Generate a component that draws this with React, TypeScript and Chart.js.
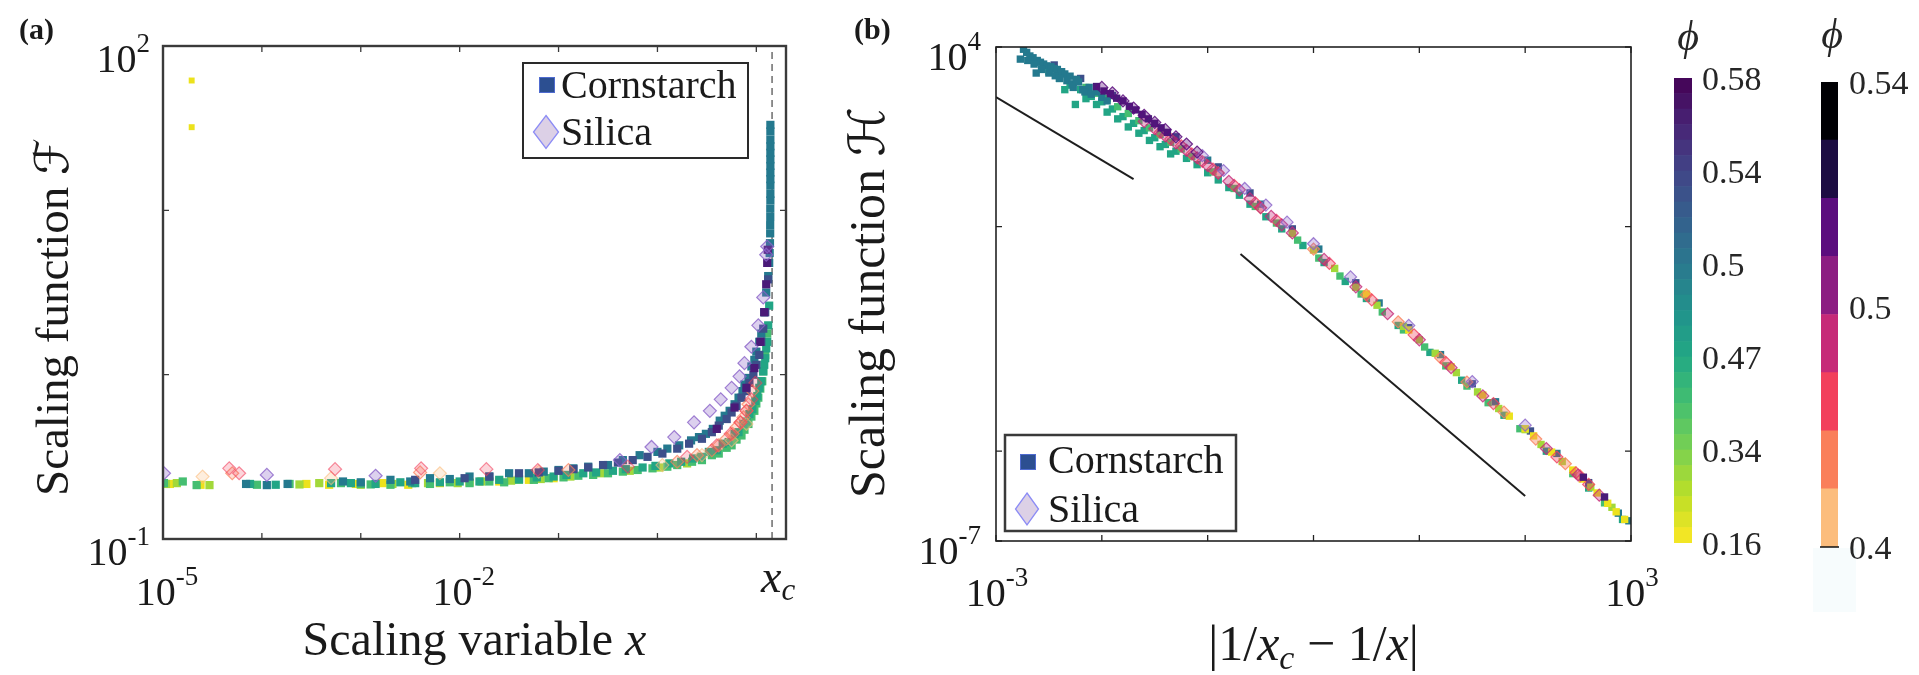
import React, { useEffect, useRef } from 'react';
import { Chart, registerables } from 'chart.js';

Chart.register(...registerables);

const SERIF = '"Liberation Serif", "DejaVu Serif", serif';
const SCRIPT = '"DejaVu Serif", "DejaVu Sans", "Liberation Serif", serif';
const INK = '#1a1a1a';

// ================= Panel (a): F vs x (all values are log10) =================
const aXRange = [-5, 1.3];
const aYRange = [-1, 2];
const aXcLog = 1.159;
const aXTickMarks = [-5, -4, -3, -2, -1, 0, 1];
const aYTickMarks = [-1, 0, 1, 2];
const aXTickLabels = [-5, -2];
const aYTickLabels = [-1, 2];

const aCorn016X = [-4.93, -4.62, -3.55, -3.32, -3.05, -2.78, -2.52, -2.2, -1.9, -1.6, -1.3, -1.05];
const aCorn016Y = [-0.665, -0.67, -0.665, -0.67, -0.665, -0.66, -0.67, -0.66, -0.655, -0.65, -0.64, -0.63];
const aYellowOutX = [-4.71, -4.71];
const aYellowOutY = [1.79, 1.506];
const aCorn034X = [-4.97, -4.86, -4.53, -3.62, -3.42, -3.0, -2.68, -2.32, -2.02, -1.78, -1.48, -1.18, -0.88, -0.58, -0.28, 0.02, 0.3];
const aCorn034Y = [-0.665, -0.66, -0.672, -0.668, -0.66, -0.67, -0.665, -0.66, -0.66, -0.65, -0.645, -0.635, -0.62, -0.6, -0.585, -0.565, -0.54];
const aCorn044X = [-4.99, -4.8, -4.66, -4.05, -3.72, -3.2, -2.9, -2.48, -2.1, -1.7, -1.4, -1.1, -0.8, -0.5, -0.2, 0.1, 0.35, 0.55, 0.7, 0.8, 0.88, 0.95, 1.0, 1.04, 1.07, 1.09, 1.11,
  -3.0, -2.7, -2.3, -1.9, -1.55, -1.25, -0.95, -0.65, -0.35, -0.05, 0.2, 0.45, 0.62, 0.75, 0.85, 0.92, 0.98, 1.02, 1.06];
const aCorn044Y = [-0.66, -0.65, -0.672, -0.67, -0.665, -0.66, -0.668, -0.66, -0.655, -0.65, -0.64, -0.63, -0.615, -0.6, -0.58, -0.56, -0.53, -0.49, -0.445, -0.395, -0.335, -0.255, -0.175, -0.085, 0.02, 0.12, 0.25,
  -0.665, -0.67, -0.665, -0.66, -0.655, -0.64, -0.625, -0.61, -0.59, -0.57, -0.55, -0.52, -0.48, -0.43, -0.37, -0.3, -0.22, -0.14, -0.04];
const aCorn047X = [-4.12, -3.86, -3.3, -2.6, -2.0, -1.6, -1.22, -0.92, -0.62, -0.32, -0.02, 0.24, 0.44, 0.6, 0.72, 0.82, 0.9, 0.96, 1.01, 1.05, 1.08, 1.1, 1.12, 1.13,
  -3.1, -2.85, -2.45, -2.2, -1.8, -1.4, -1.05, -0.75, -0.45, -0.15, 0.12, 0.36, 0.52, 0.66, 0.78, 0.87, 0.93, 0.99, 1.03, 1.07, 1.09, 1.11];
const aCorn047Y = [-0.665, -0.67, -0.66, -0.655, -0.65, -0.64, -0.625, -0.61, -0.595, -0.575, -0.555, -0.53, -0.5, -0.46, -0.41, -0.35, -0.285, -0.21, -0.13, -0.04, 0.06, 0.16, 0.3, 0.42,
  -0.66, -0.665, -0.66, -0.655, -0.65, -0.635, -0.62, -0.6, -0.585, -0.565, -0.54, -0.51, -0.47, -0.42, -0.36, -0.3, -0.24, -0.16, -0.08, 0.02, 0.1, 0.2];
const aCorn050X = [-4.16, -3.95, -3.74, -3.18, -2.7, -2.3, -1.9, -1.5, -1.15, -0.85, -0.5, -0.18, 0.1, 0.34, 0.49, 0.63, 0.73, 0.82, 0.88, 0.95, 1.0, 1.05, 1.08, 1.1, 1.12, 1.13, 1.135, 1.138, 1.14, 1.14, 1.141, 1.141, 1.142, 1.142, 1.142, 1.142, 1.142, 1.142, 1.142, 1.142, 1.142, 1.142, 1.142, 1.142,
  -3.0, -2.5, -2.1, -1.7, -1.3, -1.0, -0.7, -0.35, 0.0, 0.22, 0.42, 0.56, 0.68, 0.78, 0.86, 0.92, 0.98, 1.03];
const aCorn050Y = [-0.665, -0.672, -0.665, -0.65, -0.64, -0.63, -0.62, -0.6, -0.59, -0.57, -0.55, -0.49, -0.45, -0.4, -0.36, -0.28, -0.22, -0.14, -0.06, 0.05, 0.14, 0.25, 0.38, 0.5, 0.6, 0.68, 0.74, 0.8, 0.86, 0.91, 0.96, 1.01, 1.06, 1.1, 1.15, 1.19, 1.23, 1.27, 1.31, 1.35, 1.39, 1.43, 1.48, 1.52,
  -0.655, -0.65, -0.635, -0.62, -0.6, -0.58, -0.56, -0.52, -0.47, -0.43, -0.38, -0.33, -0.25, -0.18, -0.1, -0.02, 0.09, 0.2];
const aCorn054X = [-2.45, -1.95, -1.4, -1.0, -0.7, -0.4, -0.1, 0.2, 0.45, 0.62, 0.75, 0.85, 0.93, 1.0, 1.05, 1.09, 1.12,
  -1.7, -1.2, -0.85, -0.55, -0.25, 0.05, 0.32, 0.55, 0.7, 0.8, 0.9, 0.97, 1.03, 1.07];
const aCorn054Y = [-0.64, -0.63, -0.6, -0.585, -0.565, -0.535, -0.5, -0.45, -0.39, -0.31, -0.23, -0.14, -0.05, 0.06, 0.2, 0.38, 0.58,
  -0.62, -0.595, -0.575, -0.55, -0.52, -0.48, -0.42, -0.35, -0.27, -0.19, -0.1, 0.0, 0.12, 0.28];
const aCorn058X = [0.6, 0.78, 0.9, 0.98, 1.04, 1.08, 1.1, 1.11, 1.115];
const aCorn058Y = [-0.33, -0.2, -0.08, 0.04, 0.2, 0.38, 0.55, 0.68, 0.76];
const aSil040X = [-4.6, -3.3, -2.2, -1.2, 0.05, 0.45, 0.75, 0.9];
const aSil040Y = [-0.62, -0.63, -0.6, -0.59, -0.55, -0.49, -0.4, -0.3];
const aSil042X = [-4.3, -2.4, -0.9, 0.2, 0.55, 0.7, 0.8, 0.87, 0.92, 0.96, 0.4, 0.62, 0.76, 0.84, 0.9];
const aSil042Y = [-0.6, -0.595, -0.58, -0.53, -0.46, -0.39, -0.32, -0.26, -0.18, -0.1, -0.49, -0.43, -0.36, -0.29, -0.22];
const aSil044X = [-4.33, -4.23, -3.26, -2.39, -1.73, -1.21, -0.3, 0.3, 0.6, 0.74, 0.84, 0.9, 0.95, 0.99];
const aSil044Y = [-0.57, -0.6, -0.575, -0.57, -0.575, -0.58, -0.56, -0.5, -0.43, -0.36, -0.29, -0.22, -0.15, -0.05];
const aSil050X = [-4.99, -3.95, -2.85, -0.38, -0.06, 0.17, 0.37, 0.53, 0.64, 0.75, 0.83, 0.88, 0.95, 1.02, 1.07, 1.1, 1.11];
const aSil050Y = [-0.6, -0.61, -0.615, -0.52, -0.44, -0.38, -0.29, -0.22, -0.15, -0.08, -0.01, 0.07, 0.17, 0.3, 0.47, 0.73, 0.78];

// ================= Panel (b): H vs |1/xc - 1/x| (log10) =================
const bXRange = [-3, 3];
const bYRange = [-7, 4];
const bXTickMarks = [-3, -2, -1, 0, 1, 2, 3];
const bYTickMarks = [-7, -5, 0, 4];
const bXTickLabels = [-3, 3];
const bYTickLabels = [-7, 4];

const bCorn050X = [-2.77, -2.74, -2.71, -2.68, -2.65, -2.62, -2.61, -2.58, -2.55, -2.52, -2.48, -2.45, -2.42, -2.38, -2.35, -2.3, -2.27, -2.22, -2.18, -2.12, -2.05, -1.0, -0.5, 0.05, 0.62, 1.2, 1.72, 2.3, 2.88, 2.98,
  -2.7, -2.64, -2.57, -2.5, -2.44, -2.4, -2.33, -2.28, -2.24, -2.16, -2.1, -2.0, -1.95];
const bCorn050Y = [3.73, 3.95, 3.88, 3.8, 3.76, 3.42, 3.7, 3.66, 3.62, 3.58, 3.56, 3.52, 3.5, 3.45, 3.4, 3.35, 3.1, 3.22, 3.05, 3.1, 3.0, 1.48, 0.5, -0.5, -1.7, -2.85, -3.9, -5.05, -6.38, -6.55,
  3.7, 3.62, 3.5, 3.42, 3.36, 3.3, 3.25, 3.18, 3.28, 3.0, 2.95, 2.88, 2.8];
const bCorn047X = [-2.5, -2.4, -2.3, -2.25, -2.2, -2.1, -2.0, -1.9, -1.8, -1.7, -1.6, -1.5, -1.4, -1.3, -1.2, -1.1, -1.0, -0.9, -0.8, -0.7, -0.6, -0.45, -0.3, -0.1, 0.1, 0.3, 0.5, 0.8, 1.1, 1.4, 1.8, 2.2, 2.6, 2.92,
  -2.35, -2.15, -2.05, -1.95, -1.85, -1.75, -1.65, -1.55, -1.45, -1.35];
const bCorn047Y = [3.45, 3.3, 3.15, 2.72, 3.05, 2.9, 2.78, 2.62, 2.45, 2.3, 2.14, 1.98, 1.83, 1.68, 1.52, 1.38, 1.2, 1.04, 0.87, 0.7, 0.5, 0.22, -0.05, -0.42, -0.8, -1.22, -1.6, -2.2, -2.8, -3.42, -4.2, -5.0, -5.82, -6.52,
  3.05, 2.85, 2.72, 2.55, 2.4, 2.22, 2.08, 1.92, 1.78, 1.62];
const bCorn044X = [-2.15, -2.05, -1.95, -1.85, -1.75, -1.65, -1.55, -1.45, -1.35, -1.25, -1.15, -0.95, -0.75, -0.55, -0.35, -0.15, 0.05, 0.25, 0.45, 0.65, 0.85, 1.05, 1.25, 1.45, 1.65, 1.95, 2.45, 2.75];
const bCorn044Y = [3.1, 2.97, 2.85, 2.67, 2.52, 2.36, 2.2, 2.05, 1.88, 1.73, 1.56, 1.22, 0.85, 0.45, 0.08, -0.3, -0.7, -1.1, -1.5, -1.9, -2.3, -2.68, -3.1, -3.55, -3.92, -4.5, -5.5, -6.15];
const bCorn058X = [-2.05, -1.98, -1.92, -1.86, -1.8, -1.74, -1.68, -1.62, -1.56, -1.5, -1.44, -1.38, 2.55, 2.75];
const bCorn058Y = [3.12, 3.02, 2.96, 2.86, 2.8, 2.68, 2.6, 2.5, 2.4, 2.3, 2.2, 2.1, -5.58, -6.02];
const bCorn054X = [-2.45, -2.2, -1.9, -1.3, -0.9, -0.6, -0.2, 0.4, 0.9, 1.5, 2.05, 2.6];
const bCorn054Y = [3.6, 3.3, 2.92, 2.0, 1.33, 0.75, -0.05, -1.25, -2.25, -3.5, -4.55, -5.7];
const bCorn034X = [-0.2, 0.0, 0.2, 0.4, 0.6, 0.85, 1.0, 1.15, 1.35, 1.55, 1.75, 2.0, 2.15, 2.35, 2.62, 2.82];
const bCorn034Y = [-0.15, -0.52, -0.93, -1.35, -1.75, -2.22, -2.52, -2.82, -3.25, -3.68, -4.05, -4.52, -4.85, -5.23, -5.8, -6.25];
const bCorn016X = [0.5, 0.9, 1.3, 1.6, 1.85, 2.0, 2.08, 2.25, 2.45, 2.54, 2.68, 2.78, 2.86, 2.94];
const bCorn016Y = [-1.5, -2.3, -3.12, -3.75, -4.22, -4.5, -4.66, -5.02, -5.42, -5.62, -5.93, -6.16, -6.35, -6.52];
const bSil052X = [-2.0, -1.9, -1.8, -1.7, -1.6, -1.5, -1.4, -1.3, -1.2, -1.1];
const bSil052Y = [3.1, 2.98, 2.8, 2.64, 2.48, 2.32, 2.16, 2.0, 1.84, 1.66];
const bSil050X = [-1.05, -0.85, -0.65, -0.45, -0.25, 0.0, 0.35, 0.9, 1.5, 2.0];
const bSil050Y = [1.58, 1.25, 0.85, 0.48, 0.1, -0.38, -1.12, -2.2, -3.45, -4.42];
const bSil048X = [-1.6, -1.5, -1.4, -1.3, -1.2, -1.1, -1.0, -0.9, -0.8, -0.7, -0.6, -0.5, -0.4, -0.3, -0.2, 0.1, 0.4, 0.7, 1.0, 1.3, 1.6, 2.2, 2.5, 2.7];
const bSil048Y = [2.34, 2.18, 2.02, 1.86, 1.7, 1.53, 1.36, 1.19, 1.01, 0.82, 0.62, 0.42, 0.23, 0.04, -0.14, -0.73, -1.34, -1.94, -2.52, -3.14, -3.77, -4.94, -5.53, -5.98];
const bSil044X = [-1.45, -1.35, -1.25, -1.15, -1.05, -0.95, -0.75, -0.55, -0.35, 0.15, 0.55, 0.95, 1.25, 1.7, 2.3, 2.48, 2.6];
const bSil044Y = [2.1, 1.95, 1.8, 1.62, 1.45, 1.28, 0.92, 0.53, 0.14, -0.82, -1.63, -2.41, -3.02, -3.94, -5.13, -5.48, -5.74];
const bSil042X = [-0.9, -0.5, 0.0, 0.5, 0.8, 1.2, 1.45, 1.8, 2.1, 2.38, 2.52];
const bSil042Y = [1.2, 0.42, -0.5, -1.52, -2.12, -2.92, -3.46, -4.13, -4.73, -5.28, -5.55];
const bGuide1X = [-3, -1.7];
const bGuide1Y = [2.886, 1.06];
const bGuide2X = [-0.69, 2.0];
const bGuide2Y = [-0.61, -6.0];

// ================= Legend & colorbars =================
const legendLabels = ['Cornstarch', 'Silica'];
const cb1TickLabels = ['0.16', '0.34', '0.47', '0.5', '0.54', '0.58'];
const cb1TickPos = [0, 6, 12, 18, 24, 30];
const cb1StepCount = 30;
const cb2Colors = ['#fcbd7d', '#fa7f5a', '#f2405c', '#c62a78', '#8c1d82', '#5b0d7e', '#1c0c43', '#000004'];
const cb2TickLabels = ['0.4', '0.5', '0.54'];
const cb2TickPos = [0, 4.12, 8];

// ---- colours (styling) ----
const C = {
  c016: '#ece21c', c034: '#a2d83a', c044: '#45be71', c047: '#22a585', c050: '#24798e', c054: '#3d4f8a', c058: '#4a1a78',
  s040: '#fcbd7d', s042: '#fa7f5a', s044: '#f2405c', s048: '#c62a78', s050: '#8c1d82', s052: '#5b0d7e', sLav: '#8a62c8',
};
const viridisAnchors = ['#440154', '#482475', '#414487', '#355f8d', '#2a788e', '#21918c', '#22a884', '#44bf70', '#7ad151', '#bddf26', '#fde725'];
function hexRgb(h: string) { const n = parseInt(h.slice(1), 16); return [(n >> 16) & 255, (n >> 8) & 255, n & 255]; }
function rgba(h: string, a: number) { const [r, g, b] = hexRgb(h); return `rgba(${r},${g},${b},${a})`; }
function viridis(t: number) {
  const n = viridisAnchors.length; const s = Math.max(0, Math.min(1, t)) * (n - 1);
  const i = Math.min(n - 2, Math.floor(s)); const f = s - i;
  const a = hexRgb(viridisAnchors[i]); const b = hexRgb(viridisAnchors[i + 1]);
  return `rgb(${a.map((v, k) => Math.round(v + (b[k] - v) * f)).join(',')})`;
}
const cb1Colors = Array.from({ length: cb1StepCount }, (_, i) => viridis(1 - (i + 0.5) / cb1StepCount));

// ---- helpers ----
const P = (lx: number[], ly: number[]) => lx.map((v, i) => ({ x: 10 ** v, y: 10 ** ly[i] }));
const corn = (lx: number[], ly: number[], color: string, r: number) => ({
  data: P(lx, ly), pointStyle: 'rect', pointRadius: r, backgroundColor: color, borderColor: color, borderWidth: 0, showLine: false,
});
const sil = (lx: number[], ly: number[], color: string, r: number, fa = 0.3, ea = 0.85) => ({
  data: P(lx, ly), pointStyle: 'rectRot', pointRadius: r, backgroundColor: rgba(color, fa), borderColor: rgba(color, ea), borderWidth: 1.2, showLine: false,
});
const guide = (lx: number[], ly: number[], color: string, w: number, dash: number[]) => ({
  data: P(lx, ly), showLine: true, pointRadius: 0, borderColor: color, borderWidth: w, borderDash: dash, fill: false,
});
const logScale = (r: number[]) => ({ type: 'logarithmic', min: 10 ** r[0], max: 10 ** r[1], display: false });
const baseOpts = (pad: any) => ({
  responsive: true, maintainAspectRatio: false, animation: false, events: [],
  layout: { padding: pad },
  plugins: { legend: { display: false }, tooltip: { enabled: false } },
});

type Run = { t: string; size: number; italic?: boolean; bold?: boolean; dy?: number; font?: string };
const fontOf = (r: Run) => `${r.italic ? 'italic ' : ''}${r.bold ? 'bold ' : ''}${r.size}px ${r.font ?? SERIF}`;
function drawRuns(ctx: CanvasRenderingContext2D, runs: Run[], x: number, y: number, align: 'left' | 'center' | 'right') {
  let w = 0;
  for (const r of runs) { ctx.font = fontOf(r); w += ctx.measureText(r.t).width; }
  let cx = align === 'left' ? x : align === 'right' ? x - w : x - w / 2;
  for (const r of runs) { ctx.font = fontOf(r); ctx.fillText(r.t, cx, y + (r.dy ?? 0)); cx += ctx.measureText(r.t).width; }
}
const powRuns = (e: number): Run[] => [{ t: '10', size: 40 }, { t: String(e), size: 27, dy: -20 }];

function drawLegend(ctx: CanvasRenderingContext2D, L: any) {
  ctx.fillStyle = '#fff'; ctx.fillRect(L.x, L.y, L.w, L.h);
  ctx.strokeStyle = L.border; ctx.lineWidth = L.lw; ctx.strokeRect(L.x, L.y, L.w, L.h);
  ctx.fillStyle = '#2c4f91'; ctx.strokeStyle = '#4f6bd0'; ctx.lineWidth = 1;
  ctx.fillRect(L.sq[0] - 7.5, L.sq[1] - 7.5, 15, 15); ctx.strokeRect(L.sq[0] - 7.5, L.sq[1] - 7.5, 15, 15);
  ctx.beginPath();
  ctx.moveTo(L.dia[0], L.dia[1] - L.dh); ctx.lineTo(L.dia[0] + L.dw, L.dia[1]);
  ctx.lineTo(L.dia[0], L.dia[1] + L.dh); ctx.lineTo(L.dia[0] - L.dw, L.dia[1]); ctx.closePath();
  ctx.fillStyle = '#dcd0e6'; ctx.fill(); ctx.strokeStyle = '#8c8cf5'; ctx.lineWidth = 1.3; ctx.stroke();
  ctx.fillStyle = INK; ctx.font = `40px ${SERIF}`;
  ctx.fillText(legendLabels[0], L.tx, L.ty[0]); ctx.fillText(legendLabels[1], L.tx, L.ty[1]);
}

function panelDeco(o: any) {
  return {
    id: o.id,
    afterDraw(chart: any) {
      const ctx: CanvasRenderingContext2D = chart.ctx; const A = chart.chartArea; const xs = chart.scales.x; const ys = chart.scales.y;
      ctx.save();
      ctx.textAlign = 'left'; ctx.textBaseline = 'alphabetic'; ctx.fillStyle = INK;
      ctx.strokeStyle = o.frameColor; ctx.lineWidth = 1.3;
      ctx.beginPath();
      for (const e of o.xMarks) { const px = xs.getPixelForValue(10 ** e); ctx.moveTo(px, A.bottom); ctx.lineTo(px, A.bottom - 6); ctx.moveTo(px, A.top); ctx.lineTo(px, A.top + 6); }
      for (const e of o.yMarks) { const py = ys.getPixelForValue(10 ** e); ctx.moveTo(A.left, py); ctx.lineTo(A.left + 6, py); ctx.moveTo(A.right, py); ctx.lineTo(A.right - 6, py); }
      ctx.stroke();
      ctx.lineWidth = o.frameW; ctx.strokeRect(A.left, A.top, A.right - A.left, A.bottom - A.top);
      ctx.fillStyle = INK;
      for (const e of o.xLabels) drawRuns(ctx, powRuns(e), xs.getPixelForValue(10 ** e) + o.xLabelDx, o.xLabelBase, 'center');
      for (const e of o.yLabels) drawRuns(ctx, powRuns(e), o.yLabelRight, ys.getPixelForValue(10 ** e) + o.yLabelDy, 'right');
      drawRuns(ctx, o.xTitle, (A.left + A.right) / 2, o.xTitleBase, 'center');
      ctx.save(); ctx.translate(o.yTitleBaseX, o.yTitleStartY); ctx.rotate(-Math.PI / 2);
      drawRuns(ctx, o.yTitle, 0, 0, 'left'); ctx.restore();
      drawRuns(ctx, [{ t: o.tag, size: 30, bold: true }], o.tagX, o.tagY, 'left');
      drawLegend(ctx, o.legend);
      if (o.extra) o.extra(ctx, chart, A, xs, ys);
      ctx.restore();
    },
  };
}

function cbDeco(labels: string[], pos: number[], labelX: number, phiX: number, phiY: number, bottomLine: boolean) {
  return {
    id: 'cbDeco',
    afterDraw(chart: any) {
      const ctx: CanvasRenderingContext2D = chart.ctx; const A = chart.chartArea; const ys = chart.scales.y;
      ctx.save();
      ctx.fillStyle = '#262626'; ctx.textAlign = 'left'; ctx.textBaseline = 'middle'; ctx.font = `34px ${SERIF}`;
      labels.forEach((lab, i) => ctx.fillText(lab, labelX, ys.getPixelForValue(pos[i]) + 3));
      ctx.textAlign = 'center'; ctx.textBaseline = 'alphabetic'; ctx.font = `italic 42px ${SERIF}`;
      ctx.fillText('\u03D5', phiX, phiY);
      if (bottomLine) { ctx.strokeStyle = '#111'; ctx.lineWidth = 1.5; ctx.beginPath(); ctx.moveTo(A.left - 1, A.bottom); ctx.lineTo(A.right + 1, A.bottom); ctx.stroke(); }
      ctx.restore();
    },
  };
}

function cbConfig(colors: string[], pad: any, deco: any) {
  return {
    type: 'bar',
    data: {
      labels: [''],
      datasets: colors.map((c, i) => ({ data: [[i, i + 1]], backgroundColor: c, borderWidth: 0, barPercentage: 1, categoryPercentage: 1, grouped: false })),
    },
    options: { ...baseOpts(pad), scales: { x: { display: false }, y: { display: false, min: 0, max: colors.length } } },
    plugins: [deco],
  } as any;
}

export default function App() {
  const aRef = useRef<HTMLCanvasElement>(null);
  const bRef = useRef<HTMLCanvasElement>(null);
  const c1Ref = useRef<HTMLCanvasElement>(null);
  const c2Ref = useRef<HTMLCanvasElement>(null);

  useEffect(() => {
    document.body.style.margin = '0';
    document.body.style.overflow = 'hidden';

    const aDatasets = [
      sil(aSil050X, aSil050Y, C.sLav, 6.5, 0.3, 0.8),
      corn(aCorn058X, aCorn058Y, C.c058, 5.8),
      sil(aSil044X, aSil044Y, C.s044, 6.5, 0.22, 0.6),
      sil(aSil042X, aSil042Y, C.s042, 6.5, 0.25, 0.7),
      corn(aCorn054X, aCorn054Y, C.c054, 5.8),
      corn(aCorn050X, aCorn050Y, C.c050, 5.8),
      sil(aSil040X, aSil040Y, C.s040, 6.5, 0.25, 0.6),
      corn(aCorn047X, aCorn047Y, C.c047, 5.8),
      corn(aCorn044X, aCorn044Y, C.c044, 5.8),
      corn(aCorn034X, aCorn034Y, C.c034, 5.8),
      corn(aCorn016X, aCorn016Y, C.c016, 5.8),
      corn(aYellowOutX, aYellowOutY, C.c016, 4.2),
      guide([aXcLog, aXcLog], aYRange, '#555', 1.3, [7, 5]),
    ];

    const aChart = new Chart(aRef.current!, {
      type: 'scatter',
      data: { datasets: aDatasets },
      options: { ...baseOpts({ left: 163, top: 46, right: 94, bottom: 136 }), scales: { x: logScale(aXRange), y: logScale(aYRange) } },
      plugins: [panelDeco({
        id: 'aDeco', frameColor: '#3a3a3a', frameW: 2.4,
        xMarks: aXTickMarks, yMarks: aYTickMarks, xLabels: aXTickLabels, yLabels: aYTickLabels,
        xLabelDx: 4, xLabelBase: 605, yLabelRight: 150, yLabelDy: 26,
        xTitle: [{ t: 'Scaling variable ', size: 48 }, { t: 'x', size: 48, italic: true }], xTitleBase: 655,
        yTitle: [{ t: 'Scaling function ', size: 47 }, { t: '\u2131', size: 47, font: SCRIPT }], yTitleBaseX: 68, yTitleStartY: 496,
        tag: '(a)', tagX: 19, tagY: 39,
        legend: { x: 523, y: 63, w: 225, h: 95, lw: 2, border: '#2a2a2a', sq: [547, 85], dia: [546, 132], dw: 12.5, dh: 16.5, tx: 561, ty: [98, 145] },
        extra: (ctx: CanvasRenderingContext2D, chart: any, A: any, xs: any) => {
          const px = xs.getPixelForValue(10 ** aXcLog);
          drawRuns(ctx, [{ t: 'x', size: 46, italic: true }, { t: 'c', size: 31, italic: true, dy: 8 }], px + 6, 592, 'center');
        },
      })],
    } as any);

    const bDatasets = [
      sil(bSil052X, bSil052Y, C.s052, 6, 0.35, 0.85),
      corn(bCorn058X, bCorn058Y, C.c058, 5.2),
      sil(bSil050X, bSil050Y, C.sLav, 6, 0.3, 0.8),
      sil(bSil048X, bSil048Y, C.s048, 6, 0.35, 0.8),
      sil(bSil044X, bSil044Y, C.s044, 6, 0.35, 0.8),
      sil(bSil042X, bSil042Y, C.s042, 6, 0.4, 0.8),
      corn(bCorn016X, bCorn016Y, C.c016, 5.2),
      corn(bCorn034X, bCorn034Y, C.c034, 5.2),
      corn(bCorn050X, bCorn050Y, C.c050, 5.2),
      corn(bCorn054X, bCorn054Y, C.c054, 5.2),
      corn(bCorn044X, bCorn044Y, C.c044, 5.2),
      corn(bCorn047X, bCorn047Y, C.c047, 5.2),
      guide(bGuide1X, bGuide1Y, '#1e1e1e', 2, []),
      guide(bGuide2X, bGuide2Y, '#1e1e1e', 2, []),
    ];

    const bChart = new Chart(bRef.current!, {
      type: 'scatter',
      data: { datasets: bDatasets },
      options: { ...baseOpts({ left: 156, top: 47, right: 29, bottom: 134 }), scales: { x: logScale(bXRange), y: logScale(bYRange) } },
      plugins: [panelDeco({
        id: 'bDeco', frameColor: '#222', frameW: 1.6,
        xMarks: bXTickMarks, yMarks: bYTickMarks, xLabels: bXTickLabels, yLabels: bYTickLabels,
        xLabelDx: 1, xLabelBase: 606, yLabelRight: 141, yLabelDy: 23,
        xTitle: [
          { t: '|1/', size: 50 }, { t: 'x', size: 50, italic: true }, { t: 'c', size: 34, italic: true, dy: 9 },
          { t: ' \u2212 1/', size: 50 }, { t: 'x', size: 50, italic: true }, { t: '|', size: 50 },
        ],
        xTitleBase: 660,
        yTitle: [{ t: 'Scaling function ', size: 50 }, { t: '\u210B', size: 50, font: SCRIPT }], yTitleBaseX: 44, yTitleStartY: 498,
        tag: '(b)', tagX: 14, tagY: 39,
        legend: { x: 165, y: 435, w: 231, h: 96, lw: 2.5, border: '#3a3a3a', sq: [188, 462], dia: [187, 509], dw: 11.5, dh: 16, tx: 208, ty: [473, 522] },
      })],
    } as any);

    const c1 = new Chart(c1Ref.current!, cbConfig(cb1Colors, { left: 14, top: 78, right: 93, bottom: 132 },
      cbDeco(cb1TickLabels, cb1TickPos, 42, 28, 50, false)));
    const c2 = new Chart(c2Ref.current!, cbConfig(cb2Colors, { left: 36, top: 82, right: 81, bottom: 128 },
      cbDeco(cb2TickLabels, cb2TickPos, 64, 47, 48, true)));

    return () => { aChart.destroy(); bChart.destroy(); c1.destroy(); c2.destroy(); };
  }, []);

  const box = (left: number, width: number): React.CSSProperties => ({ position: 'absolute', left, top: 0, width, height: 675 });
  return (
    <div style={{ position: 'absolute', left: 0, top: 0, width: 1919, height: 675, background: '#fff', overflow: 'hidden' }}>
      <div style={{ position: 'absolute', left: 1813, top: 548, width: 43, height: 64, background: '#f7fcfd' }} />
      <div style={box(0, 880)}><canvas ref={aRef} /></div>
      <div style={box(840, 820)}><canvas ref={bRef} /></div>
      <div style={box(1660, 125)}><canvas ref={c1Ref} /></div>
      <div style={box(1785, 134)}><canvas ref={c2Ref} /></div>
    </div>
  );
}
